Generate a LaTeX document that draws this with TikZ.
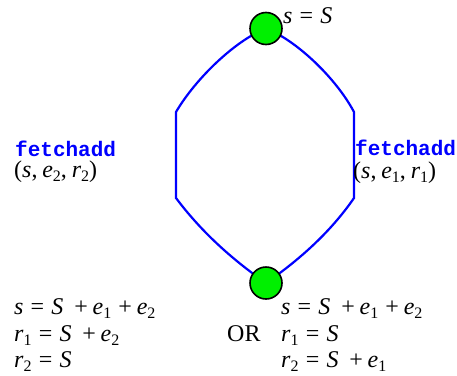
\documentclass[tikz,border=0pt]{standalone}
\usepackage{fontspec}
\setmainfont{Liberation Serif}
\setmonofont{Liberation Mono}
\usetikzlibrary{backgrounds}
\definecolor{nodegreen}{RGB}{0,240,0}
\newcommand{\vv}[1]{\textit{#1}}
\newcommand{\sbs}[1]{\raisebox{-0.2em}{\fontsize{16}{16}\selectfont #1}}
\newcommand{\eqs}{\hspace{0.3em}=\hspace{0.3em}}
\newcommand{\pls}{\hspace{0.45em}+\hspace{0.2em}}
\newcommand{\plsb}{\hspace{0.3em}+\hspace{0.2em}}
\newcommand{\cms}{,\hspace{0.2em}}
\tikzset{
  state/.style={circle, draw=black, line width=1.6pt, fill=nodegreen, minimum size=32pt, inner sep=0pt},
  edge/.style={draw=blue, line width=2.2pt},
  lbl/.style={anchor=base west, inner sep=0pt, font=\fontsize{24}{28}\selectfont},
  op/.style={anchor=base west, inner sep=0pt, text=blue, font=\fontsize{21}{25}\selectfont\ttfamily\bfseries},
}
\begin{document}
\begin{tikzpicture}[x=1pt,y=-1pt]
\useasboundingbox (0,0) rectangle (457,375);
\node[state] (top) at (266,28.5) {};
\node[state] (bot) at (266,283) {};
\coordinate (tl) at (176,112);
\coordinate (bl) at (176,198);
\coordinate (tr) at (354,112);
\coordinate (br) at (354,198);
\begin{scope}[on background layer]
\draw[edge] (top.center) .. controls (236,40) and (196,78) .. (tl) -- (bl)
  .. controls (200,230) and (230,258) .. (bot.center);
\draw[edge] (top.center) .. controls (296,40) and (336,78) .. (tr) -- (br)
  .. controls (332,230) and (302,258) .. (bot.center);
\end{scope}
\node[lbl] (toplbl) at (283,23) {\vv{s}\eqs\vv{S}};
\node[op] (opl) at (15,156) {fetchadd};
\node[lbl] (argl) at (14,177) {(\vv{s}\cms\vv{e}\sbs{2}\cms\vv{r}\sbs{2})};
\node[op] (opr) at (355,155) {fetchadd};
\node[lbl] (argr) at (353,178) {(\vv{s}\cms\vv{e}\sbs{1}\cms\vv{r}\sbs{1})};
\node[lbl] (l1) at (14,314) {\vv{s}\eqs\vv{S}\pls\vv{e}\sbs{1}\plsb\vv{e}\sbs{2}};
\node[lbl] (l2) at (14,341) {\vv{r}\sbs{1}\eqs\vv{S}\pls\vv{e}\sbs{2}};
\node[lbl] (l3) at (14,367) {\vv{r}\sbs{2}\eqs\vv{S}};
\node[lbl] (or) at (227,341) {OR};
\node[lbl] (r1) at (281,314) {\vv{s}\eqs\vv{S}\pls\vv{e}\sbs{1}\plsb\vv{e}\sbs{2}};
\node[lbl] (r2) at (281,341) {\vv{r}\sbs{1}\eqs\vv{S}};
\node[lbl] (r3) at (281,367) {\vv{r}\sbs{2}\eqs\vv{S}\pls\vv{e}\sbs{1}};
\end{tikzpicture}
\end{document}
